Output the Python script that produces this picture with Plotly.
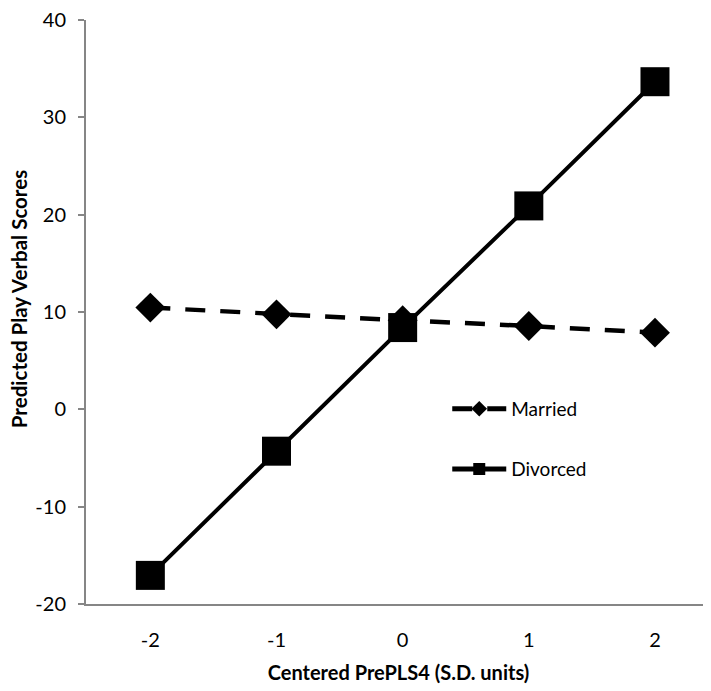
import plotly.graph_objects as go

x_vals = [-2, -1, 0, 1, 2]
x_labels = ["-2", "-1", "0", "1", "2"]
married = [10.45, 9.76, 9.15, 8.56, 7.88]
divorced = [-17.06, -4.3, 8.4, 20.9, 33.66]
y_ticks = [-20, -10, 0, 10, 20, 30, 40]
y_labels = ["-20", "-10", "0", "10", "20", "30", "40"]

FONT = "Lato"
AXIS_COLOR = "#868686"

fig = go.Figure()
fig.add_trace(go.Scatter(
    x=x_vals, y=married, name="Married", mode="lines+markers",
    line=dict(color="black", width=4.5, dash="20px,15px"),
    marker=dict(symbol="diamond", size=23, color="black"),
    legend="legend", hoverinfo="skip",
))
fig.add_trace(go.Scatter(
    x=x_vals, y=divorced, name="Divorced", mode="lines+markers",
    line=dict(color="black", width=4),
    marker=dict(symbol="square", size=29, color="black"),
    legend="legend2", hoverinfo="skip",
))

legend_common = dict(
    xanchor="left", yanchor="middle", bgcolor="rgba(0,0,0,0)",
    font=dict(family=FONT, size=19, color="black"),
    itemsizing="constant", itemwidth=54,
)

fig.update_layout(
    width=703, height=683,
    margin=dict(l=78, r=0, t=12, b=87),
    paper_bgcolor="white", plot_bgcolor="white",
    showlegend=True,
    legend=dict(x=0.578, y=0.334, **legend_common),
    legend2=dict(x=0.578, y=0.231, **legend_common),
    xaxis=dict(
        range=[-2.51, 2.444], tickvals=x_vals, ticktext=x_labels,
        showgrid=False, zeroline=False, showline=True, linecolor=AXIS_COLOR, linewidth=2,
        ticks="", ticklabelstandoff=17,
        tickfont=dict(family=FONT, size=20, color="black"),
        title=dict(text="<b>Centered PrePLS4 (S.D. units)</b>", standoff=16,
                   font=dict(family=FONT, size=20, color="black")),
    ),
    yaxis=dict(
        range=[-20, 40], tickvals=y_ticks, ticktext=y_labels,
        showgrid=False, zeroline=False, showline=True, linecolor=AXIS_COLOR, linewidth=2,
        ticks="outside", ticklen=6, tickcolor=AXIS_COLOR, tickwidth=2,
        ticklabelstandoff=8, ticklabeloverflow="allow",
        tickfont=dict(family=FONT, size=20, color="black"),
    ),
    annotations=[dict(
        text="<b>Predicted Play Verbal Scores</b>", textangle=-90,
        xref="paper", yref="paper", x=-0.1072, y=0.522,
        xanchor="center", yanchor="middle", showarrow=False,
        font=dict(family=FONT, size=20.5, color="black"),
    )],
)

fig.write_html("out.html")
